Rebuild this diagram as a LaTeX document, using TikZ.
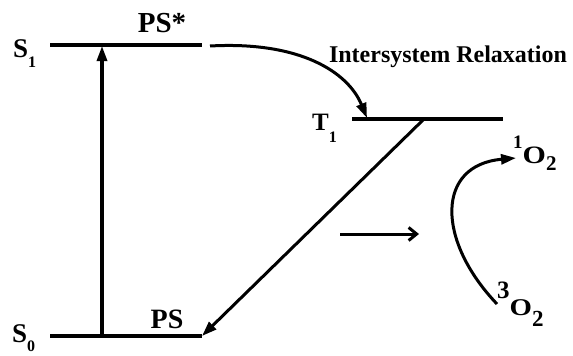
\documentclass[tikz,border=0pt]{standalone}
\usepackage{fontspec}
\setmainfont{Liberation Serif}
\usepackage{graphicx}
\usepackage{tikz}
\usetikzlibrary{arrows.meta}
\newcommand{\lowidx}[2]{\raisebox{#2}{\fontsize{16}{16}\selectfont #1}}
\newcommand{\oxy}[5]{\raisebox{#2}{\fontsize{#4}{#4}\selectfont #1}\scalebox{1.2}[1]{O}\raisebox{#3}{\fontsize{#5}{#5}\selectfont 2}}

\begin{document}
\begin{tikzpicture}[x=1pt,y=-1pt,
  level/.style={line width=3.5pt},
  lbl/.style={inner sep=0pt,font=\bfseries\fontsize{27}{27}\selectfont},
  head/.style={-{Triangle[length=15pt,width=10pt]}},
  flow/.style={line width=3pt,head}]
\useasboundingbox (0,0) rectangle (573,356);
% energy levels
\coordinate (s1a) at (50,45); \coordinate (s1b) at (202,45);
\coordinate (s0a) at (50,336); \coordinate (s0b) at (202,336);
\coordinate (t1a) at (352,119); \coordinate (t1b) at (503,119);
\draw[level] (s1a)--(s1b);
\draw[level] (s0a)--(s0b);
\draw[level] (t1a)--(t1b);
% labels
\node[lbl,anchor=base west] (s1) at (13,57) {S\lowidx{1}{-10pt}};
\node[lbl,anchor=base west] (s0) at (12,342) {S\lowidx{0}{-9pt}};
\node[lbl,anchor=base west,font=\bfseries\fontsize{25}{25}\selectfont] (t1) at (312,130) {T\lowidx{1}{-12pt}};
\node[lbl,anchor=base,font=\bfseries\fontsize{29}{29}\selectfont] (psx) at (162,32) {PS*};
\node[lbl,anchor=base,font=\bfseries\fontsize{28}{28}\selectfont] (ps) at (167,328) {PS};
\node[lbl,anchor=base,font=\bfseries\fontsize{24}{24}\selectfont] (isr) at (448,62) {Intersystem Relaxation};
\node[lbl,anchor=base west,font=\bfseries\fontsize{25}{25}\selectfont] (o1) at (513,163) {\oxy{1}{15pt}{-7pt}{19}{21}};
\node[lbl,anchor=base west,font=\bfseries\fontsize{24}{24}\selectfont] (o3) at (497,315) {\oxy{3}{17pt}{-11pt}{25}{23}};
% transitions
\coordinate (v0) at (102,336); \coordinate (v1) at (102,46);
\draw[flow,line width=3.2pt] (v0)--(v1);
\coordinate (c0) at (210,46); \coordinate (c1) at (367,118);
\draw[flow] (c0) .. controls (300,41) and (348,72) .. (c1);
\coordinate (d0) at (423,120);
\draw[flow] (d0)--(s0b);
\coordinate (h0) at (340,234); \coordinate (h1) at (419,234);
\draw[line width=3pt,-{Straight Barb[length=8pt,width=13pt]}] (h0)--(h1);
\coordinate (q0) at (497,304); \coordinate (q1) at (516,158);
\draw[flow] (q0) .. controls (436,240) and (436,165) .. (q1);
\end{tikzpicture}
\end{document}
